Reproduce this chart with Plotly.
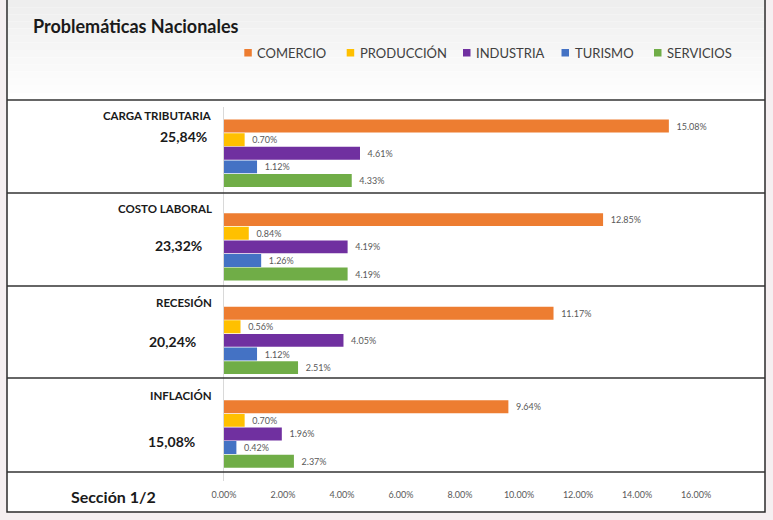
import plotly.graph_objects as go

# ---------------- data ----------------
categories = ["CARGA TRIBUTARIA", "COSTO LABORAL", "RECESIÓN", "INFLACIÓN"]
totals = [25.84, 23.32, 20.24, 15.08]
series_names = ["COMERCIO", "PRODUCCIÓN", "INDUSTRIA", "TURISMO", "SERVICIOS"]
comercio = [15.08, 12.85, 11.17, 9.64]
produccion = [0.70, 0.84, 0.56, 0.70]
industria = [4.61, 4.19, 4.05, 1.96]
turismo = [1.12, 1.26, 1.12, 0.42]
servicios = [4.33, 4.19, 2.51, 2.37]
series_values = [comercio, produccion, industria, turismo, servicios]
colors = ["#ED7D31", "#FFC000", "#7030A0", "#4472C4", "#70AD47"]
x_ticks = [0, 2, 4, 6, 8, 10, 12, 14, 16]

W, H = 773, 520
FONT = "Lato, 'Open Sans', sans-serif"


def px(p):
    return p / W


def py(p):
    return 1 - p / H


fig = go.Figure()
for name, vals, col in zip(series_names, series_values, colors):
    fig.add_trace(go.Bar(
        y=categories, x=vals, name=name, orientation="h",
        marker=dict(color=col, line=dict(width=0)),
        texttemplate="\u00a0\u00a0%{x:.2f}%", textposition="outside",
        constraintext="none", cliponaxis=False,
        textfont=dict(family=FONT, size=9, color="#595959"),
        showlegend=False, hoverinfo="skip",
    ))

shapes = []
# outer frame
shapes.append(dict(type="rect", xref="paper", yref="paper",
                   x0=px(7), x1=px(765), y0=py(512), y1=py(-5),
                   fillcolor="white", line=dict(color="#2b2b2b", width=1.5),
                   layer="below"))
# header gradient
n = 14
for i in range(n):
    t = i / (n - 1)
    c = int(238 + (255 - 238) * t)
    shapes.append(dict(type="rect", xref="paper", yref="paper",
                       x0=px(8), x1=px(764), y0=py(100 * (i + 1) / n), y1=py(100 * i / n - (1 if i == 0 else 0)),
                       fillcolor=f"rgb({c},{c},{c})", line=dict(width=0), layer="below"))
# section lines
for yl in [100, 193, 286, 378, 472]:
    shapes.append(dict(type="line", xref="paper", yref="paper",
                       x0=px(7), x1=px(765), y0=py(yl), y1=py(yl),
                       line=dict(color="#333333", width=1.6), layer="above"))

annotations = []
# title
annotations.append(dict(text="<b>Problemáticas Nacionales</b>", xref="paper", yref="paper",
                        x=px(31), y=py(26), xanchor="left", yanchor="middle", showarrow=False,
                        font=dict(family=FONT, size=18, color="#1a1a1a")))
# legend
leg_sq = [244.3, 346.7, 463, 561.5, 654]
for name, col, xs in zip(series_names, colors, leg_sq):
    shapes.append(dict(type="rect", xref="paper", yref="paper",
                       x0=px(xs), x1=px(xs + 7.5), y0=py(56.5), y1=py(49),
                       fillcolor=col, line=dict(width=0)))
    annotations.append(dict(text=name, xref="paper", yref="paper",
                            x=px(xs + 11), y=py(53), xanchor="left", yanchor="middle",
                            showarrow=False, font=dict(family=FONT, size=13, color="#404040")))
# category labels and totals
tot_shift = [17, 1, -1.5, -7.5]
tot_right = [209, 204, 198, 197]
for cat, tot, ys, xr in zip(categories, totals, tot_shift, tot_right):
    annotations.append(dict(text=f"<b>{cat}</b>", xref="paper", yref="y", x=px(214), y=cat,
                            yshift=38, xanchor="right", yanchor="middle", showarrow=False,
                            font=dict(family=FONT, size=11.5, color="#1a1a1a")))
    annotations.append(dict(text="<b>" + f"{tot:.2f}".replace(".", ",") + "%</b>",
                            xref="paper", yref="y", x=px(xr), y=cat,
                            yshift=ys, xanchor="right", yanchor="middle", showarrow=False,
                            font=dict(family=FONT, size=14, color="#1a1a1a")))
annotations.append(dict(text="<b>Sección 1/2</b>", xref="paper", yref="paper",
                        x=px(113.5), y=py(496), xanchor="center", yanchor="middle",
                        showarrow=False, font=dict(family=FONT, size=16, color="#1a1a1a")))

fig.update_layout(
    width=W, height=H, autosize=False, margin=dict(l=0, r=0, t=0, b=0, pad=0, autoexpand=False),
    paper_bgcolor="#f5eff1", plot_bgcolor="rgba(0,0,0,0)",
    barmode="group", bargap=0.273, bargroupgap=0.05,
    shapes=shapes, annotations=annotations, showlegend=False,
    xaxis=dict(domain=[px(224), px(696)], range=[0, 16], tickvals=x_ticks,
               ticktext=[f"{v:.2f}%" for v in x_ticks], showgrid=False, zeroline=False,
               showline=False, ticks="outside", ticklen=5, tickcolor="rgba(0,0,0,0)",
               tickfont=dict(family=FONT, size=9, color="#595959"), fixedrange=True),
    yaxis=dict(domain=[py(480.75), py(106.5)], autorange="reversed",
               showticklabels=False, showgrid=False, zeroline=False,
               showline=True, linecolor="#d9d9d9", linewidth=1, ticks="", fixedrange=True),
)

fig.write_html("out.html", config={"displayModeBar": False, "responsive": False},
               post_script="document.body.style.margin='0';document.body.style.overflow='hidden';")
